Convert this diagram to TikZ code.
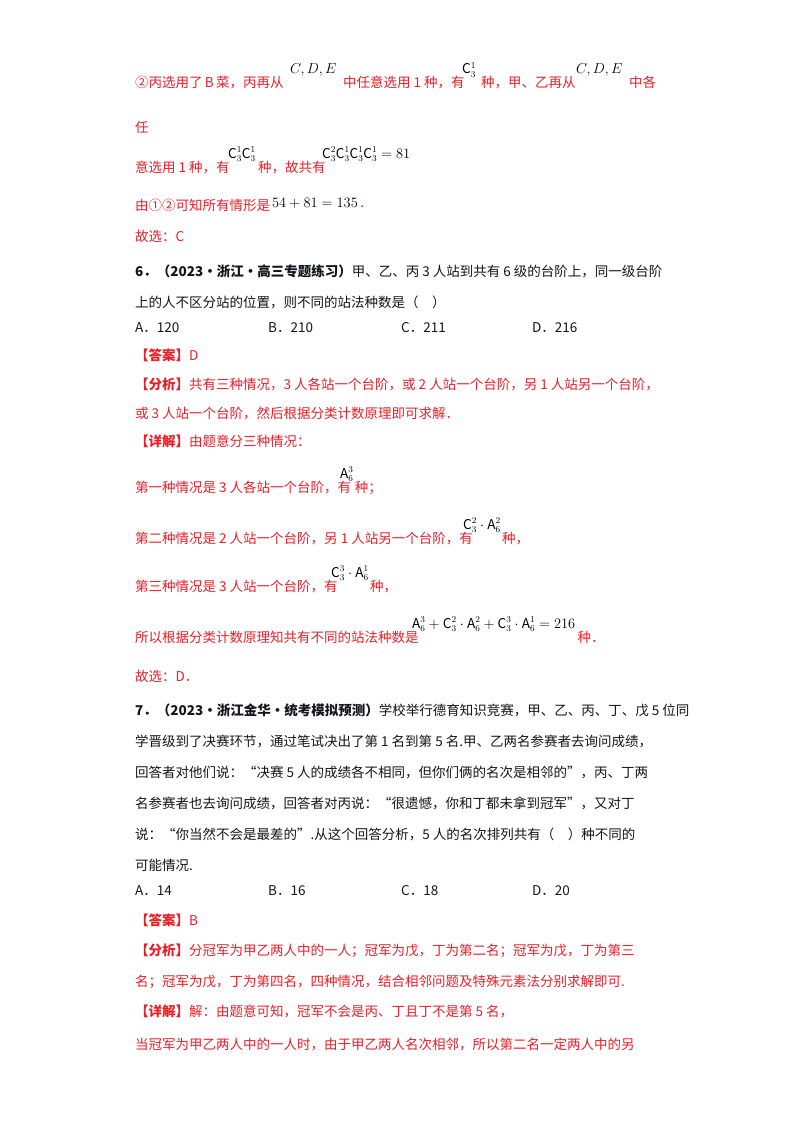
\documentclass[tikz,border=0pt]{standalone}
\usepackage{fontspec}
\setmainfont{Noto Sans CJK SC}
\usepackage{amsmath}
\definecolor{rd}{RGB}{235,30,40}
\definecolor{tx}{RGB}{20,20,30}
\tikzset{t/.style={anchor=base west,inner sep=0pt,font=\fontsize{13.5}{14}\selectfont},
 r/.style={t,text=rd}, k/.style={t,text=tx}, m/.style={t,text=black}}
\newcommand{\Cc}[2]{\mathrm{C}_{#1}^{#2}}
\newcommand{\Aa}[2]{\mathrm{A}_{#1}^{#2}}
\begin{document}
\begin{tikzpicture}[x=1pt,y=-1pt]
\useasboundingbox (0,0) rectangle (800,1132);
\node[r] (a1) at (135,87) {②丙选用了\,\textit{B}\,菜，丙再从};
\node[m] (a2) at (290,74) {$C,D,E$};
\node[r] (a3) at (343,87) {中任意选用\ 1\ 种，有};
\node[m] (a4) at (462,74) {$\Cc31$};
\node[r] (a5) at (481,87) {种，甲、乙再从};
\node[m] (a6) at (576,74) {$C,D,E$};
\node[r] (a7) at (629,87) {中各};
\node[r] (b1) at (135,132) {任};
\node[r] (c1) at (135,172) {意选用\ 1\ 种，有};
\node[m] (c2) at (228,158) {$\Cc31\Cc31$};
\node[r] (c3) at (258,172) {种，故共有};
\node[m] (c4) at (322,158) {$\Cc32\Cc31\Cc31\Cc31=81$};
\node[r] (d1) at (135,210) {由①②可知所有情形是};
\node[m] (d2) at (272,207) {$54+81=135$};
\node[r] (d3) at ([xshift=2pt]d2.base east) {.};
\node[r] (e1) at (135,241) {故选：C};
\node[k] (f1) at (135,276) {\textbf{6．（2023·浙江·高三专题练习）}甲、乙、丙\ 3\ 人站到共有\ 6\ 级的台阶上，同一级台阶};
\node[k] (f2) at (135,307) {上的人不区分站的位置，则不同的站法种数是（\quad）};
\node[k] (g1) at (135,332) {A．120};
\node[k] (g2) at (268,332) {B．210};
\node[k] (g3) at (401,332) {C．211};
\node[k] (g4) at (532,332) {D．216};
\node[r] (h1) at (135,360) {\textbf{【答案】}D};
\node[r] (h2) at (135,389) {\textbf{【分析】}共有三种情况，3\ 人各站一个台阶，或\ 2\ 人站一个台阶，另\ 1\ 人站另一个台阶，};
\node[r] (h3) at (135,418) {或\ 3\ 人站一个台阶，然后根据分类计数原理即可求解．};
\node[r] (h4) at (135,446) {\textbf{【详解】}由题意分三种情况：};
\node[r] (i1) at (135,492) {第一种情况是\ 3\ 人各站一个台阶，有};
\node[m] (i2) at (340,478) {$\Aa63$};
\node[r] (i3) at ([xshift=1pt]i2.base east |- 0,492) {种；};
\node[r] (j1) at (135,543) {第二种情况是\ 2\ 人站一个台阶，另\ 1\ 人站另一个台阶，有};
\node[m] (j2) at (463,529) {$\Cc32\cdot\Aa62$};
\node[r] (j3) at ([xshift=1pt]j2.base east |- 0,543) {种，};
\node[r] (k1) at (135,591) {第三种情况是\ 3\ 人站一个台阶，有};
\node[m] (k2) at (331,577) {$\Cc33\cdot\Aa61$};
\node[r] (k3) at ([xshift=1pt]k2.base east |- 0,591) {种，};
\node[r] (l1) at (135,642) {所以根据分类计数原理知共有不同的站法种数是};
\node[m] (l2) at (412,628) {$\Aa63+\Cc32\cdot\Aa62+\Cc33\cdot\Aa61=216$};
\node[r] (l3) at ([xshift=2pt]l2.base east |- 0,642) {种．};
\node[r] (n1) at (135,681) {故选：D．};
\node[k] (o1) at (135,715) {\textbf{7．（2023·浙江金华·统考模拟预测）}学校举行德育知识竞赛，甲、乙、丙、丁、戊\ 5\ 位同};
\node[k] (o2) at (135,746) {学晋级到了决赛环节，通过笔试决出了第\ 1\ 名到第\ 5\ 名.甲、乙两名参赛者去询问成绩，};
\node[k] (o3) at (135,777) {回答者对他们说：“决赛\ 5\ 人的成绩各不相同，但你们俩的名次是相邻的”，丙、丁两};
\node[k] (o4) at (135,808) {名参赛者也去询问成绩，回答者对丙说：“很遗憾，你和丁都未拿到冠军”，又对丁};
\node[k] (o5) at (135,839) {说：“你当然不会是最差的”.从这个回答分析，5\ 人的名次排列共有（\quad）种不同的};
\node[k] (o6) at (135,870) {可能情况.};
\node[k] (p1) at (135,895) {A．14};
\node[k] (p2) at (268,895) {B．16};
\node[k] (p3) at (401,895) {C．18};
\node[k] (p4) at (532,895) {D．20};
\node[r] (q1) at (135,925) {\textbf{【答案】}B};
\node[r] (q2) at (135,955) {\textbf{【分析】}分冠军为甲乙两人中的一人；冠军为戊，丁为第二名；冠军为戊，丁为第三};
\node[r] (q3) at (135,986) {名；冠军为戊，丁为第四名，四种情况，结合相邻问题及特殊元素法分别求解即可.};
\node[r] (q4) at (135,1016) {\textbf{【详解】}解：由题意可知，冠军不会是丙、丁且丁不是第\ 5\ 名，};
\node[r] (q5) at (135,1049) {当冠军为甲乙两人中的一人时，由于甲乙两人名次相邻，所以第二名一定两人中的另};
\end{tikzpicture}
\end{document}
